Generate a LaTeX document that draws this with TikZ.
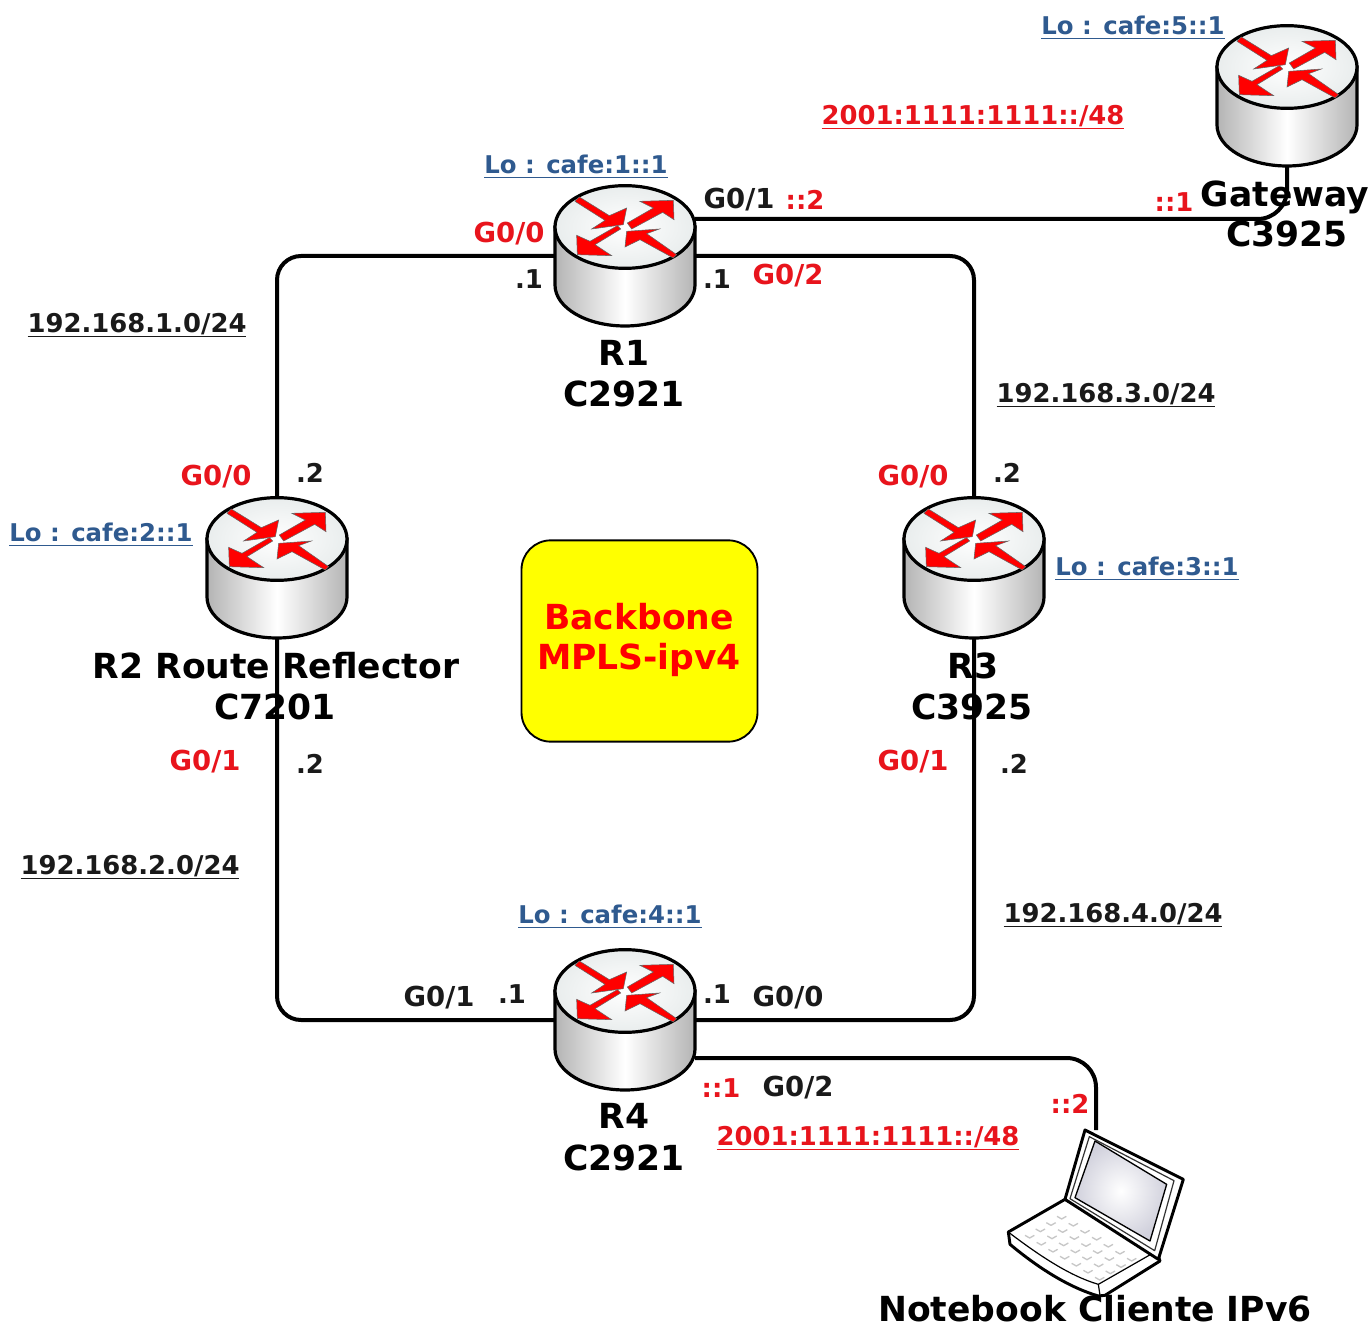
\documentclass[tikz,border=0pt]{standalone}
\usepackage{fontspec}
\setmainfont{DejaVu Sans}
\definecolor{labred}{HTML}{E8141C}
\definecolor{labblue}{HTML}{2F5A8F}
\definecolor{labblack}{HTML}{1A1A1A}
\definecolor{pureyellow}{HTML}{FFFF00}
\definecolor{purered}{HTML}{FF0000}
\definecolor{bodygray}{HTML}{B4B4B4}
\definecolor{topgray}{HTML}{E9EDED}
\newcommand\ulab[1]{\leavevmode\setbox0=\hbox{#1}\rlap{\vrule width\wd0 height -2.6pt depth 3.8pt}\box0 }
\tikzset{
  routerbox/.style={minimum width=105pt,minimum height=105pt,inner sep=0pt,outer sep=0pt},
  link/.style={line width=3pt,draw=black,rounded corners=18pt},
  small/.style={anchor=base,yshift=-6.9pt,inner sep=0pt,font=\bfseries\fontsize{19.4}{19}\selectfont},
  big/.style={anchor=base,yshift=-9.6pt,inner sep=0pt,font=\bfseries\fontsize{25.9}{26}\selectfont,text=black},
  redt/.style={small,text=labred},
  blk/.style={small,text=labblack},
  blu/.style={small,text=labblue,font=\bfseries\fontsize{18.3}{19}\selectfont},
  port/.style={font=\bfseries\fontsize{20.6}{19}\selectfont},
  arrowred/.style={fill=purered,draw=black!60,line width=.4pt},
  pics/router/.style={code={
    \path[draw=black,line width=2.4pt,left color=bodygray,right color=bodygray,middle color=white]
      (-70,-29) -- (-70,29) arc[start angle=180,end angle=360,x radius=52.5pt,y radius=30.75pt] -- (70,-29) -- cycle;
    \path[draw=black,line width=2.4pt,inner color=white,outer color=topgray]
      (0,-29) ellipse[x radius=52.5pt,y radius=31pt];
    \begin{scope}[shift={(0,-29)},x=.25pt,y=-.25pt,shift={(-285,-172)}]
      \path[arrowred] (148,82) -- (238,138) -- (290,115) -- (280,165) -- (185,178) -- (225,152) -- (135,95) -- cycle;
      \path[arrowred] (292,160) -- (370,115) -- (330,95) -- (430,92) -- (432,150) -- (398,128) -- (305,178) -- cycle;
      \path[arrowred] (272,178) -- (195,225) -- (245,258) -- (142,255) -- (140,197) -- (180,215) -- (262,168) -- cycle;
      \path[arrowred] (440,255) -- (430,265) -- (330,210) -- (285,232) -- (290,185) -- (388,178) -- (350,192) -- cycle;
    \end{scope}
  }},
  pics/laptopicon/.style={code={
    \begin{scope}[x=.25pt,y=-.25pt,shift={(-318,-314)},line join=round]
      \path[draw=black,line width=2.2pt,fill=white]
        (225,270) -- (55,368) -- (60,405) .. controls (150,480) and (240,535) .. (325,560) -- (345,558) -- (510,455) -- (500,425) -- cycle;
      \path[draw=black,line width=.9pt] (60,372) .. controls (150,440) and (240,500) .. (325,525) -- (330,558);
      \path[draw=black,line width=.9pt] (325,525) -- (500,425);
      \foreach \i in {0,...,6}{\foreach \j in {0,...,3}{
        \path[draw=black!22,line width=1pt,shift={($(215,315)+\i*(35,21)+\j*(-32,19)$)}] (-14,6) -- (0,14) -- (14,6);
      }}
      \path[draw=black,line width=2.2pt,fill=white]
        (225,270) -- (285,62) -- (580,210) -- (505,450) -- cycle;
      \path[draw=black!80,line width=.9pt] (240,268) -- (298,82) -- (552,214) -- (494,424) -- cycle;
      \path[draw=black,line width=1pt,inner color=white,outer color=blue!25!black!18]
        (315,95) -- (530,225) -- (480,395) -- (255,265) -- cycle;
    \end{scope}
  }},
}
\usetikzlibrary{calc}
\begin{document}
\begin{tikzpicture}[x=.75pt,y=-.75pt]
\useasboundingbox (0,0) rectangle (1372,1330);
\fill[white] (0,0) rectangle (1372,1330);
\node[routerbox] (r1) at (625,256) {};
\node[routerbox] (r2) at (277,568) {};
\node[routerbox] (r3) at (974,568) {};
\node[routerbox] (r4) at (625,1020) {};
\node[routerbox] (gw) at (1287,96) {};
\node[minimum width=132pt,minimum height=126pt,inner sep=0pt,outer sep=0pt] (nb) at (1096,1214) {};
\coordinate (r1g) at (695,219);
\coordinate (r4g) at (695,1058);
\draw[link] (r1.west) -| (r2.north);
\draw[link] (r1.east) -| (r3.north);
\draw[link] (r2.south) |- (r4.west);
\draw[link] (r3.south) |- (r4.east);
\draw[link,rounded corners=22pt] (r1g) -| (gw.south);
\draw[link,rounded corners=22pt] (r4g) -| (nb.north);
\pic at (r1) {router};
\pic at (r2) {router};
\pic at (r3) {router};
\pic at (r4) {router};
\pic at (gw) {router};
\pic at (nb) {laptopicon};
\node[draw=black,line width=1.4pt,fill=pureyellow,rounded corners=22pt,minimum width=177pt,minimum height=151pt,inner sep=0pt] (core) at (639.5,641) {};
\node[big,text=purered] (core1) at (639,617) {Backbone};
\node[big,text=purered] (core2) at (639,657) {MPLS-ipv4};

\node[blu] (lo5) at (1133,25) {\ulab{Lo : cafe:5::1}};
\node[blu] (lo1) at (576,164) {\ulab{Lo : cafe:1::1}};
\node[blu] (lo2) at (101,532) {\ulab{Lo : cafe:2::1}};
\node[blu] (lo3) at (1147,566) {\ulab{Lo : cafe:3::1}};
\node[blu] (lo4) at (610,914) {\ulab{Lo : cafe:4::1}};
\node[redt] (net5) at (973,115) {\ulab{2001:1111:1111::/48}};
\node[redt] (net6) at (868,1136) {\ulab{2001:1111:1111::/48}};
\node[blk] (net1) at (137,323) {\ulab{192.168.1.0/24}};
\node[blk] (net3) at (1106,393) {\ulab{192.168.3.0/24}};
\node[blk] (net2) at (130,865) {\ulab{192.168.2.0/24}};
\node[blk] (net4) at (1113,913) {\ulab{192.168.4.0/24}};

\node[blk,port] (a1) at (739,199) {G0/1};
\node[redt] (a2) at (805,200) {::2};
\node[redt] (a3) at (1174,202) {::1};
\node[redt,port] (a4) at (509,233) {G0/0};
\node[blk] (a5) at (529,279) {.1};
\node[blk] (a6) at (717,279) {.1};
\node[redt,port] (a7) at (788,275) {G0/2};
\node[redt,port] (b1) at (216,476) {G0/0};
\node[blk] (b2) at (310,473) {.2};
\node[redt,port] (b3) at (913,476) {G0/0};
\node[blk] (b4) at (1007,473) {.2};
\node[redt,port] (b5) at (205,761) {G0/1};
\node[blk] (b6) at (310,764) {.2};
\node[redt,port] (b7) at (913,761) {G0/1};
\node[blk] (b8) at (1014,764) {.2};
\node[blk,port] (c1) at (439,997) {G0/1};
\node[blk] (c2) at (512,994) {.1};
\node[blk] (c3) at (717,994) {.1};
\node[blk,port] (c4) at (788,997) {G0/0};
\node[redt] (c5) at (721,1088) {::1};
\node[blk,port] (c6) at (798,1087) {G0/2};
\node[redt] (c7) at (1070,1104) {::2};

\node[big] (t1a) at (1285,194) {Gateway};
\node[big] (t1b) at (1287,234) {C3925};
\node[big] (t2a) at (624,353) {R1};
\node[big] (t2b) at (624,394) {C2921};
\node[big] (t3a) at (276,666) {R2 Route Reflector};
\node[big] (t3b) at (275,707) {C7201};
\node[big] (t4a) at (973,666) {R3};
\node[big] (t4b) at (972,707) {C3925};
\node[big] (t5a) at (624,1116) {R4};
\node[big] (t5b) at (624,1158) {C2921};
\node[big] (t6) at (1095,1309) {Notebook Cliente IPv6};
\end{tikzpicture}
\end{document}
